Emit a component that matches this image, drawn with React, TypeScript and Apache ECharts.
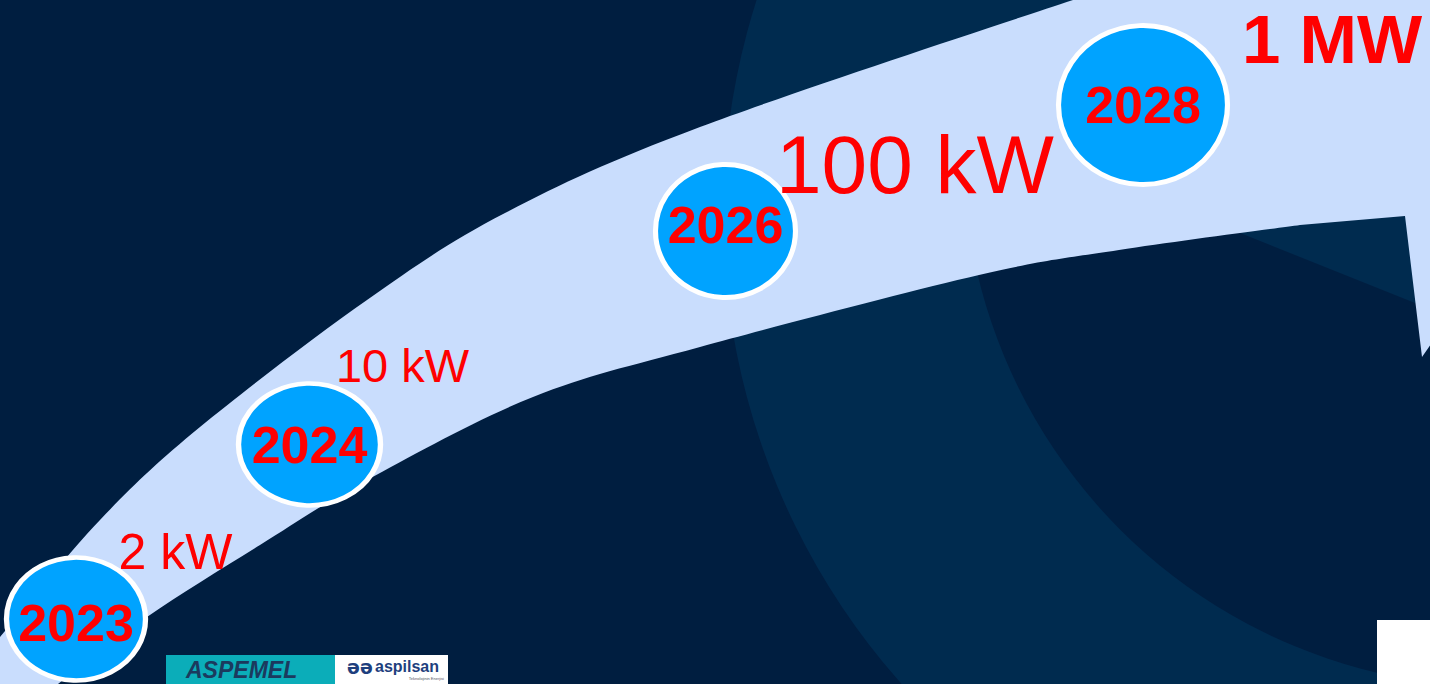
import React, { useEffect, useRef } from "react";
import * as echarts from "echarts";

// ---- data (diagram units: x 0..1430 left→right, y 0..684 top→bottom) ----
const years = ["2023", "2024", "2026", "2028"];
const badgeX = [76, 309.5, 725.5, 1143];
const badgeY = [619, 444.5, 231, 105];

const powerLabels = ["2 kW", "10 kW", "100 kW", "1 MW"];
const powerX = [175.5, 402.5, 915, 1332];
const powerY = [551.5, 365.5, 164, 39.5];

// arrow band outline
const arrowUpper = [
  [-20, 661], [0, 637], [100, 520], [200, 427], [367, 300], [505, 213],
  [700, 127], [1073, 0], [1250, -55],
];
const arrowHead = [[1520, -60], [1520, 215], [1422, 357], [1405, 216]];
const arrowLower = [
  [1300, 225], [1119, 250], [979, 275], [700, 347], [533, 397], [367, 480],
  [260, 545], [147, 617], [58, 684], [20, 720],
];

// ---- styles ----
const badgeW = [144, 147, 145, 174];
const badgeH = [128, 127, 138, 164];
const badgeTextOffset = [4, 0, -6, 0];
const powerFont = [
  { size: 50, weight: "normal", lh: 56 },
  { size: 47, weight: "normal", lh: 54 },
  { size: 82, weight: "normal", lh: 90 },
  { size: 69, weight: "bold", lh: 60 },
];
const FONT = "'Liberation Sans', Arial, Helvetica, sans-serif";
const BG = "#001E40";
const RING = "#002B4F";
const BAND = "#C9DDFD";

function smoothPath(pts: number[][], moveFirst: boolean): string {
  let d = moveFirst ? `M${pts[0][0]},${pts[0][1]}` : `L${pts[0][0]},${pts[0][1]}`;
  for (let i = 0; i < pts.length - 1; i++) {
    const p0 = pts[Math.max(0, i - 1)];
    const p1 = pts[i];
    const p2 = pts[i + 1];
    const p3 = pts[Math.min(pts.length - 1, i + 2)];
    const c1x = p1[0] + (p2[0] - p0[0]) / 6;
    const c1y = p1[1] + (p2[1] - p0[1]) / 6;
    const c2x = p2[0] - (p3[0] - p1[0]) / 6;
    const c2y = p2[1] - (p3[1] - p1[1]) / 6;
    d += ` C${c1x},${c1y} ${c2x},${c2y} ${p2[0]},${p2[1]}`;
  }
  return d;
}

export default function App() {
  const ref = useRef<HTMLDivElement>(null);

  useEffect(() => {
    document.body.style.margin = "0";
    const chart = echarts.init(ref.current!, null, { renderer: "svg" });

    const option: any = {
      animation: false,
      backgroundColor: BG,
      grid: { left: 0, right: 0, top: 0, bottom: 0 },
      xAxis: { type: "value", min: 0, max: 1430, show: false },
      yAxis: { type: "value", min: 0, max: 684, inverse: true, show: false },
      series: [
        {
          type: "custom",
          coordinateSystem: "cartesian2d",
          silent: true,
          z: 1,
          data: [[0, 0]],
          renderItem: (_params: any, api: any) => {
            const P = (p: number[]) => api.coord(p);
            const c1 = P([1428, 215]);
            const r1 = api.size([705, 0])[0];
            const c2 = P([1500, 150]);
            const r2 = api.size([537, 0])[0];
            const up = arrowUpper.map(P);
            const head = arrowHead.map(P);
            const low = arrowLower.map(P);
            let d = smoothPath(up, true);
            head.forEach((h: number[]) => (d += ` L${h[0]},${h[1]}`));
            d += " " + smoothPath(low, false) + " Z";
            return {
              type: "group",
              children: [
                { type: "circle", shape: { cx: c1[0], cy: c1[1], r: r1 }, style: { fill: RING } },
                { type: "circle", shape: { cx: c2[0], cy: c2[1], r: r2 }, style: { fill: BG } },
                {
                  type: "polygon",
                  shape: { points: [P([850, -20]), P([1520, -20]), P([1520, 345]), P([850, 77])] },
                  style: { fill: RING },
                },
                { type: "path", shape: { pathData: d }, style: { fill: BAND } },
              ],
            };
          },
        },
        {
          type: "scatter",
          z: 3,
          symbol: "circle",
          silent: true,
          data: years.map((y, i) => ({
            name: y,
            value: [badgeX[i], badgeY[i]],
            symbolSize: [badgeW[i] - 5, badgeH[i] - 5],
            label: { offset: [0, badgeTextOffset[i]] },
          })),
          itemStyle: { color: "#00A3FF", borderColor: "#FFFFFF", borderWidth: 5, opacity: 1 },
          label: {
            show: true,
            position: "inside",
            formatter: "{b}",
            color: "#FF0000",
            fontFamily: FONT,
            fontWeight: "bold",
            fontSize: 52,
          },
          emphasis: { disabled: true },
        },
        {
          type: "scatter",
          z: 4,
          symbolSize: 0,
          silent: true,
          itemStyle: { opacity: 1 },
          data: powerLabels.map((p, i) => ({
            name: p,
            value: [powerX[i], powerY[i]],
            label: {
              fontSize: powerFont[i].size,
              fontWeight: powerFont[i].weight,
              lineHeight: powerFont[i].lh,
            },
          })),
          label: {
            show: true,
            position: "inside",
            formatter: "{b}",
            color: "#FF0000",
            fontFamily: FONT,
          },
          emphasis: { disabled: true },
        },
      ],
      graphic: [
        { type: "rect", z: 100, shape: { x: 166, y: 655, width: 170, height: 30 }, style: { fill: "#0BADB9" } },
        { type: "rect", z: 100, shape: { x: 335, y: 655, width: 113, height: 30 }, style: { fill: "#FFFFFF" } },
        {
          type: "text", z: 101, x: 186, y: 670,
          style: { text: "ASPEMEL", fill: "#1B3A5E", font: `italic bold 23px ${FONT}`, textVerticalAlign: "middle" },
        },
        {
          type: "text", z: 101, x: 347, y: 667,
          style: { text: "əə", fill: "#1E3F7E", font: `bold 19px 'DejaVu Sans', sans-serif`, textVerticalAlign: "middle" },
        },
        {
          type: "text", z: 101, x: 375, y: 666,
          style: { text: "aspilsan", fill: "#1E3F7E", font: `bold 16px ${FONT}`, textVerticalAlign: "middle" },
        },
        {
          type: "text", z: 101, x: 444, y: 678,
          style: { text: "Teknolojinin Enerjisi", fill: "#556", font: `4px ${FONT}`, textAlign: "right", textVerticalAlign: "middle" },
        },
        { type: "rect", z: 100, shape: { x: 1377, y: 620, width: 60, height: 70 }, style: { fill: "#FFFFFF" } },
      ],
    };

    chart.setOption(option);
    return () => chart.dispose();
  }, []);

  return (
    <div
      ref={ref}
      style={{ position: "fixed", left: 0, top: 0, width: 1430, height: 684 }}
    />
  );
}
